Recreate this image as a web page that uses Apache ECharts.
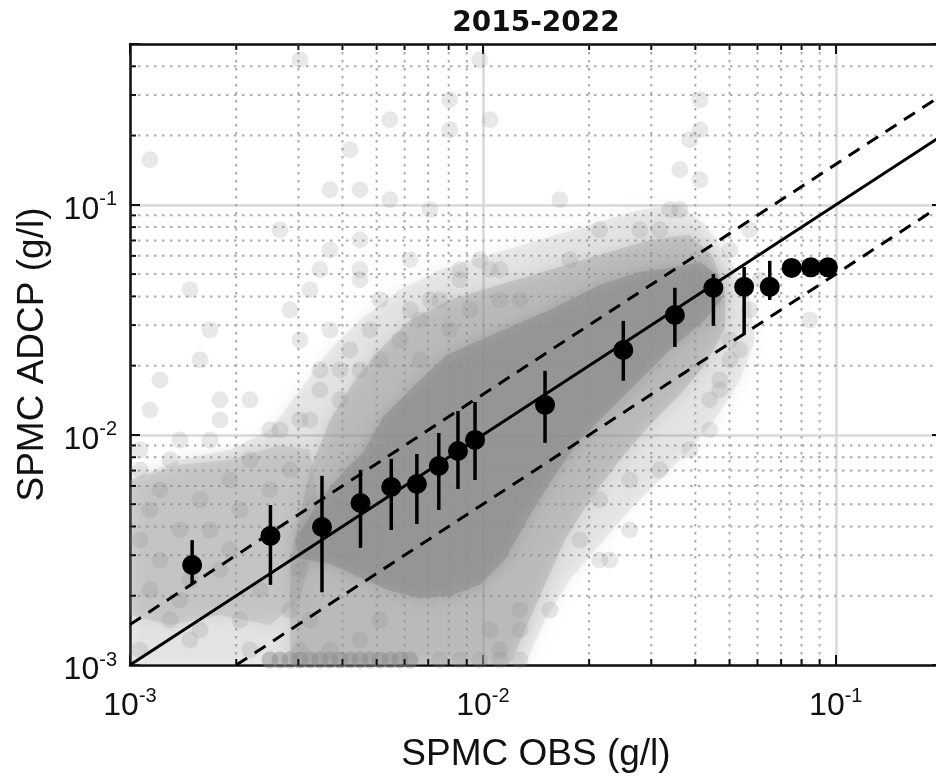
<!DOCTYPE html>
<html><head><meta charset="utf-8">
<script src="https://cdn.jsdelivr.net/npm/echarts@6/dist/echarts.min.js"></script>
<style>html,body{margin:0;padding:0;background:#fff}#c{width:936px;height:776px}</style>
</head><body><div id="c"></div>
<script>
// ---------------- data ----------------
const titleText = '2015-2022';
const xName = 'SPMC OBS (g/l)';
const yName = 'SPMC ADCP (g/l)';
const xRange = [0.001, 0.2];
const yRange = [0.001, 0.5];
const xMinorTicks = [0.002,0.003,0.004,0.005,0.006,0.007,0.008,0.009,0.02,0.03,0.04,0.05,0.06,0.07,0.08,0.09];
const yMinorTicks = [0.002,0.003,0.004,0.005,0.006,0.007,0.008,0.009,0.02,0.03,0.04,0.05,0.06,0.07,0.08,0.09,0.2,0.3,0.4];

// binned means (black dots) with error bars
const binObs  = [0.0015,0.0025,0.0035,0.0045,0.0055,0.0065,0.0075,0.0085,0.0095,0.015,0.025,0.035,0.045,0.055,0.065,0.075,0.085,0.095];
const binMean = [2.72e-3,3.64e-3,3.98e-3,5.06e-3,5.94e-3,6.12e-3,7.33e-3,8.51e-3,9.51e-3,0.0135,0.0234,0.0332,0.0436,0.0440,0.0440,0.0532,0.0535,0.0535];
const binLow  = [2.23e-3,2.23e-3,2.07e-3,3.23e-3,3.86e-3,4.10e-3,4.72e-3,5.82e-3,6.37e-3,9.23e-3,0.0172,0.0241,0.0298,0.0272,0.0386,0.0532,0.0535,0.0535];
const binHigh = [3.49e-3,4.96e-3,6.64e-3,7.05e-3,7.87e-3,8.26e-3,0.0102,0.0127,0.0139,0.0190,0.0313,0.0436,0.0500,0.0537,0.0571,0.0532,0.0535,0.0535];

// reference lines
const oneToOne   = [[0.001,0.001],[0.2,0.2]];
const upperBound = [[0.001,0.0015],[0.2,0.3]];
const lowerBound = [[0.002,0.001],[0.2,0.1]];

// density envelopes of the grey point cloud
const hazeOuter = [[1.0e-3,6.37e-3],[1.385e-3,7.79e-3],[1.920e-3,8.61e-3],[2.493e-3,1.051e-2],[3.031e-3,1.569e-2],[3.687e-3,2.342e-2],[4.484e-3,3.162e-2],[5.821e-3,4.271e-2],[7.55e-3,5.22e-2],[1.047e-2,6.06e-2],[1.449e-2,7.04e-2],[2.009e-2,8.2e-2],[2.786e-2,9.51e-2],[3.614e-2,0.100],[4.26e-2,8.2e-2],[5.01e-2,5.77e-2],[5.70e-2,3.864e-2],[5.90e-2,2.588e-2],[5.35e-2,1.734e-2],[4.54e-2,1.162e-2],[3.855e-2,8.61e-3],[3.170e-2,6.37e-3],[2.606e-2,4.72e-3],[2.143e-2,3.33e-3],[1.762e-2,2.342e-3],[1.50e-2,1.569e-3],[1.315e-2,1.0e-3],[1.0e-3,1.0e-3]];
const hazeLeft = [[1.0e-3,6.37e-3],[1.385e-3,7.41e-3],[1.920e-3,7.79e-3],[2.661e-3,9.05e-3],[3.236e-3,8.61e-3],[3.453e-3,4.271e-3],[3.031e-3,1.917e-3],[2.493e-3,1.493e-3],[1.799e-3,1.65e-3],[1.298e-3,1.493e-3],[1.0e-3,1.65e-3]];
const hazeMid = [[2.840e-3,2.861e-3],[3.236e-3,7.04e-3],[3.687e-3,1.162e-2],[4.34e-3,1.734e-2],[5.108e-3,2.342e-2],[6.212e-3,3.162e-2],[8.06e-3,3.864e-2],[1.117e-2,4.49e-2],[1.549e-2,5.22e-2],[2.143e-2,6.06e-2],[2.972e-2,7.04e-2],[3.855e-2,7.41e-2],[4.45e-2,6.06e-2],[4.85e-2,4.271e-2],[4.85e-2,2.861e-2],[4.26e-2,2.015e-2],[3.614e-2,1.493e-2],[2.972e-2,1.105e-2],[2.443e-2,7.79e-3],[2.009e-2,5.22e-3],[1.707e-2,3.495e-3],[1.50e-2,2.23e-3],[1.315e-2,1.420e-3],[1.192e-2,1.0e-3],[2.840e-3,1.0e-3]];
const hazeCore = [[2.93e-3,3.495e-3],[3.453e-3,5.22e-3],[4.06e-3,7.04e-3],[4.57e-3,8.36e-3],[5.21e-3,1.197e-2],[6.33e-3,1.617e-2],[7.91e-3,2.227e-2],[1.096e-2,2.78e-2],[1.549e-2,3.495e-2],[2.143e-2,4.49e-2],[2.786e-2,5.11e-2],[3.388e-2,5.32e-2],[4.121e-2,5.65e-2],[4.63e-2,4.96e-2],[4.75e-2,3.864e-2],[4.26e-2,3.162e-2],[3.388e-2,2.342e-2],[2.786e-2,1.734e-2],[2.291e-2,1.284e-2],[1.884e-2,9.51e-3],[1.60e-2,6.70e-3],[1.358e-2,4.49e-3],[1.154e-2,2.861e-3],[9.80e-3,2.23e-3],[8.06e-3,2.0e-3],[6.631e-3,1.95e-3],[5.452e-3,2.1e-3],[4.484e-3,2.4e-3],[3.687e-3,2.75e-3],[3.031e-3,2.9e-3]];

// individual grey points visible around the cloud
const cloudPoints = [
[1.139e-3,0.1569],[3.031e-3,0.4271],[3.687e-3,0.1162],[4.484e-3,0.1162],[4.201e-3,0.1734],[5.452e-3,0.2342],[8.06e-3,0.2861],[8.06e-3,0.2119],[9.80e-3,0.4271],[1.047e-2,0.2342],[5.452e-3,0.1051],[3.614e-2,0.1420],[4.121e-2,0.1284],[4.121e-2,0.2119],[3.855e-2,0.1917],[4.121e-2,0.2861],[2.661e-3,7.79e-2],[3.614e-2,9.51e-2],[1.652e-2,0.1051],[2.143e-2,7.79e-2],[2.786e-2,7.79e-2],[3.170e-2,7.79e-2],[3.388e-2,9.51e-2],[1.762e-2,5.77e-2],[1.117e-2,5.22e-2],[6.212e-3,5.77e-2],[8.61e-3,5.22e-2],[7.079e-3,3.864e-2],[6.631e-3,3.162e-2],[5.01e-2,6.37e-2],[5.70e-2,7.79e-2],
[1.216e-3,1.734e-2],[1.139e-3,1.284e-2],[1.799e-3,1.420e-2],[1.799e-3,1.162e-2],[2.188e-3,1.420e-2],[1.685e-3,2.861e-2],[1.479e-3,4.271e-2],[3.453e-3,5.22e-2],[4.484e-3,4.72e-2],[2.840e-3,3.495e-2],[3.687e-3,6.37e-2],[3.236e-3,4.271e-2],[4.484e-3,7.04e-2],[4.484e-3,5.22e-2],[5.108e-3,3.864e-2],[7.079e-3,9.51e-2],[1.579e-3,2.119e-2],[1.685e-3,9.51e-3],[1.067e-3,8.61e-3],[1.385e-3,9.51e-3],[2.493e-3,1.051e-2],[3.031e-3,2.588e-2],[3.453e-3,1.917e-2],[3.687e-3,2.861e-2],[4.201e-3,2.342e-2],[4.786e-3,2.861e-2],[3.936e-3,1.917e-2],[3.453e-3,1.569e-2],[3.936e-3,1.420e-2],[4.484e-3,1.917e-2],[5.108e-3,2.119e-2],[5.821e-3,2.588e-2],[6.212e-3,3.495e-2],[7.55e-3,3.864e-2],[8.61e-3,4.72e-2],[1.047e-2,5.22e-2],[1.117e-2,3.864e-2],[1.274e-2,3.864e-2],[9.80e-3,5.77e-2],[9.19e-3,3.495e-2],[8.06e-3,2.861e-2],[6.631e-3,2.119e-2],[3.031e-3,1.162e-2],[2.661e-3,1.051e-2],[3.236e-3,1.162e-2],
[4.688e-2,1.734e-2],[4.395e-2,1.420e-2],[5.01e-2,2.119e-2],[5.35e-2,2.342e-2],[5.01e-2,2.588e-2],[5.70e-2,3.495e-2],[8.44e-2,3.162e-2],[4.688e-2,1.569e-2],[4.395e-2,1.051e-2],[3.855e-2,8.61e-3],[3.170e-2,7.04e-3],[2.606e-2,6.37e-3],[2.143e-2,5.22e-3],[2.143e-2,2.861e-3],[2.606e-2,3.864e-3],[1.884e-2,3.495e-3],[2.291e-2,2.861e-3],[1.549e-2,1.734e-3],[1.274e-2,1.734e-3],[1.274e-2,1.420e-3],[1.117e-2,1.162e-3],[1.047e-2,1.420e-3],[6.10e-2,4.72e-2],
[1.067e-3,3.495e-3],[1.216e-3,2.861e-3],[1.799e-3,2.588e-3],[1.139e-3,2.119e-3],[1.298e-3,1.569e-3],[1.579e-3,1.420e-3],[1.067e-3,1.162e-3],[2.049e-3,1.569e-3],[2.188e-3,1.162e-3],[1.479e-3,1.284e-3],[1.920e-3,3.162e-3],[1.685e-3,3.864e-3],[1.385e-3,3.864e-3],[1.139e-3,4.72e-3],[1.579e-3,5.22e-3],[1.216e-3,5.77e-3],[2.049e-3,4.72e-3],[2.493e-3,5.77e-3],[2.840e-3,7.04e-3],[3.031e-3,2.588e-3],[2.840e-3,1.734e-3],[3.236e-3,1.569e-3],[3.031e-3,1.162e-3],[3.687e-3,1.162e-3],[4.484e-3,1.284e-3],[5.108e-3,1.569e-3],[1.067e-3,7.04e-3],[1.298e-3,7.79e-3],[2.188e-3,7.79e-3],[1.920e-3,6.37e-3],[1.479e-3,2.342e-3],[2.335e-3,2.119e-3],[1.385e-3,1.917e-3],
[7.55e-3,1.05e-3],[8.61e-3,1.05e-3],[9.80e-3,1.05e-3],[1.117e-2,1.05e-3],[1.274e-2,1.05e-3]
];
// points piled up at the lower limit (dark strip along the bottom axis)
const floorPoints = [[2.493e-3,1.05e-3],[2.661e-3,1.05e-3],[2.840e-3,1.05e-3],[3.031e-3,1.05e-3],[3.236e-3,1.05e-3],[3.453e-3,1.05e-3],[3.687e-3,1.05e-3],[3.936e-3,1.05e-3],[4.201e-3,1.05e-3],[4.484e-3,1.05e-3],[4.786e-3,1.05e-3],[5.108e-3,1.05e-3],[5.452e-3,1.05e-3],[5.821e-3,1.05e-3],[6.212e-3,1.05e-3]];

// ---------------- chart ----------------
const FONT = '"Liberation Sans", Arial, Helvetica, sans-serif';
const chart = echarts.init(document.getElementById('c'), null, {renderer: 'canvas'});

function expLabel(v) {
  const e = Math.log10(v), r = Math.round(e);
  if (Math.abs(e - r) > 1e-6) return '';
  return '{b|10}{s|' + r + '}';
}
const labelRich = {
  b: {fontSize: 32, fontFamily: FONT, color: '#111', lineHeight: 40},
  s: {fontSize: 20, fontFamily: FONT, color: '#111', lineHeight: 18, verticalAlign: 'top'}
};
const axisLineStyle = {color: '#111', width: 2.5};
const tickStyle = {inside: true, length: 10, lineStyle: {color: '#111', width: 2}};
const splitStyle = {show: true, lineStyle: {color: '#d9d9d9', width: 2.5}};

function polySeries(points, fill, blur) {
  return {
    type: 'custom', coordinateSystem: 'cartesian2d', silent: true, z: 2, clip: true,
    data: [points[0]],
    renderItem: function (params, api) {
      return {
        type: 'polygon',
        shape: {points: points.map(p => api.coord(p))},
        style: {fill: fill, shadowBlur: blur, shadowColor: 'rgba(140,140,140,1)'}
      };
    }
  };
}

const option = {
  animation: false,
  backgroundColor: '#fff',
  grid: {left: 130, top: 44, width: 812, height: 621, outerBoundsMode: 'none', containLabel: false},
  graphic: [{
    type: 'text', x: 536, y: 24, z: 100,
    style: {text: titleText, font: 'bold 28px "DejaVu Sans", sans-serif', fill: '#111', textAlign: 'center', textVerticalAlign: 'middle'}
  }],
  xAxis: [{
    type: 'log', logBase: 10, min: xRange[0], max: xRange[1], position: 'bottom',
    axisLine: {lineStyle: axisLineStyle}, axisTick: tickStyle, splitLine: splitStyle,
    axisLabel: {formatter: expLabel, rich: labelRich, margin: 21},
    name: xName, nameLocation: 'middle', nameGap: 70,
    nameTextStyle: {fontSize: 37, fontFamily: FONT, color: '#111', lineHeight: 40}
  }, {
    type: 'log', logBase: 10, min: xRange[0], max: xRange[1], position: 'top',
    axisLine: {lineStyle: axisLineStyle}, axisTick: tickStyle, splitLine: {show: false}, axisLabel: {show: false}
  }],
  yAxis: [{
    type: 'log', logBase: 10, min: yRange[0], max: yRange[1], position: 'left',
    axisLine: {lineStyle: axisLineStyle}, axisTick: tickStyle, splitLine: splitStyle,
    axisLabel: {formatter: expLabel, rich: labelRich, margin: 13, padding: [10, 0, 0, 0]},
    name: yName, nameLocation: 'middle', nameGap: 77,
    nameTextStyle: {fontSize: 37, fontFamily: FONT, color: '#111', lineHeight: 40}
  }, {
    type: 'log', logBase: 10, min: yRange[0], max: yRange[1], position: 'right',
    axisLine: {lineStyle: axisLineStyle}, axisTick: tickStyle, splitLine: {show: false}, axisLabel: {show: false}
  }],
  series: [
    {
      type: 'custom', silent: true, z: 1, data: xMinorTicks.map(v => [v, yRange[0]]),
      renderItem: function (params, api) {
        const cs = params.coordSys, x = api.coord([api.value(0), api.value(1)])[0];
        return {type: 'line', shape: {x1: x, y1: cs.y, x2: x, y2: cs.y + cs.height},
          style: {stroke: '#ababab', lineWidth: 2, lineDash: [2.5, 5.5]}};
      }
    },
    {
      type: 'custom', silent: true, z: 1, data: yMinorTicks.map(v => [xRange[0], v]),
      renderItem: function (params, api) {
        const cs = params.coordSys, y = api.coord([api.value(0), api.value(1)])[1];
        return {type: 'line', shape: {x1: cs.x, y1: y, x2: cs.x + cs.width, y2: y},
          style: {stroke: '#ababab', lineWidth: 2, lineDash: [2.5, 5.5]}};
      }
    },
    polySeries(hazeOuter, 'rgba(140,140,140,0.13)', 16),
    polySeries(hazeLeft, 'rgba(140,140,140,0.19)', 16),
    polySeries(hazeMid, 'rgba(140,140,140,0.27)', 16),
    polySeries(hazeCore, 'rgba(140,140,140,0.55)', 16),
    {
      type: 'scatter', silent: true, z: 3, data: cloudPoints, symbolSize: 17,
      itemStyle: {color: '#8a8a8a', opacity: 0.2}
    },
    {
      type: 'scatter', silent: true, z: 3, data: floorPoints, symbolSize: 17,
      itemStyle: {color: '#8a8a8a', opacity: 0.45}
    },
    {type: 'line', silent: true, z: 4, data: oneToOne, symbol: 'none', lineStyle: {color: '#000', width: 3}},
    {type: 'line', silent: true, z: 4, data: upperBound, symbol: 'none', lineStyle: {color: '#000', width: 3, type: [13, 9]}},
    {type: 'line', silent: true, z: 4, data: lowerBound, symbol: 'none', lineStyle: {color: '#000', width: 3, type: [13, 9]}},
    {
      type: 'custom', silent: true, z: 5,
      data: binObs.map((x, i) => [x, binLow[i], binHigh[i]]),
      encode: {x: 0, y: [1, 2]},
      renderItem: function (params, api) {
        const lo = api.value(1), hi = api.value(2);
        if (!(hi > lo)) return null;
        const p1 = api.coord([api.value(0), lo]), p2 = api.coord([api.value(0), hi]);
        return {type: 'line', shape: {x1: p1[0], y1: p1[1], x2: p2[0], y2: p2[1]}, style: {stroke: '#000', lineWidth: 3.5}};
      }
    },
    {
      type: 'scatter', silent: true, z: 6, symbolSize: 20,
      data: binObs.map((x, i) => [x, binMean[i]]),
      itemStyle: {color: '#000', opacity: 1}
    },
    {
      type: 'custom', silent: true, z: 10, data: xMinorTicks.map(v => [v, yRange[0]]),
      renderItem: function (params, api) {
        const cs = params.coordSys, x = api.coord([api.value(0), api.value(1)])[0];
        return {type: 'group', children: [
          {type: 'line', shape: {x1: x, y1: cs.y + cs.height, x2: x, y2: cs.y + cs.height - 6}, style: {stroke: '#111', lineWidth: 2}},
          {type: 'line', shape: {x1: x, y1: cs.y, x2: x, y2: cs.y + 6}, style: {stroke: '#111', lineWidth: 2}}
        ]};
      }
    },
    {
      type: 'custom', silent: true, z: 10, data: yMinorTicks.map(v => [xRange[0], v]),
      renderItem: function (params, api) {
        const cs = params.coordSys, y = api.coord([api.value(0), api.value(1)])[1];
        return {type: 'line', shape: {x1: cs.x, y1: y, x2: cs.x + 6, y2: y}, style: {stroke: '#111', lineWidth: 2}};
      }
    }
  ]
};
chart.setOption(option);
</script>
</body></html>
